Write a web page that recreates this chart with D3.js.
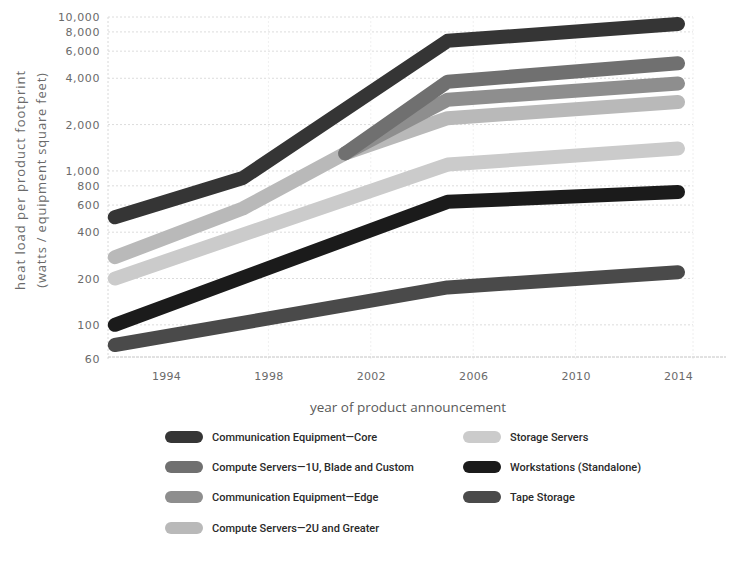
<!DOCTYPE html>
<html>
<head>
<meta charset="utf-8">
<script src="https://cdn.jsdelivr.net/npm/d3@7"></script>
<style>
  html, body { margin: 0; padding: 0; background: #fff; }
  svg { display: block; }
</style>
</head>
<body>
<svg id="chart" width="734" height="567"></svg>
<script>
// Series (legend order)
const seriesNames = [
  "Communication Equipment\u2014Core",
  "Compute Servers\u20141U, Blade and Custom",
  "Communication Equipment\u2014Edge",
  "Compute Servers\u20142U and Greater",
  "Storage Servers",
  "Workstations (Standalone)",
  "Tape Storage"
];
const seriesColors = ["#353535", "#707070", "#8e8e8e", "#b9b9b9", "#cbcbcb", "#1b1b1b", "#4a4a4a"];

// Breakpoint years and heat load values (watts / equipment sq ft) per series
const coreYears = [1992, 1997, 2005, 2014];
const coreValues = [500, 900, 7000, 9000];
const blade1UYears = [2001, 2005, 2014];
const blade1UValues = [1300, 3800, 5000];
const edgeYears = [2001, 2005, 2014];
const edgeValues = [1300, 2900, 3700];
const servers2UYears = [1992, 1997, 2001, 2005, 2014];
const servers2UValues = [275, 570, 1300, 2200, 2800];
const storageYears = [1992, 2005, 2014];
const storageValues = [200, 1100, 1400];
const workstationYears = [1992, 2005, 2014];
const workstationValues = [100, 630, 730];
const tapeYears = [1992, 2005, 2014];
const tapeValues = [74, 175, 220];

// Axis ticks
const xTickYears = [1994, 1998, 2002, 2006, 2010, 2014];
const yTickValues = [60, 100, 200, 400, 600, 800, 1000, 2000, 4000, 6000, 8000, 10000];

const seriesYears = [coreYears, blade1UYears, edgeYears, servers2UYears, storageYears, workstationYears, tapeYears];
const seriesValues = [coreValues, blade1UValues, edgeValues, servers2UValues, storageValues, workstationValues, tapeValues];
const series = seriesNames.map((name, i) => ({
  name,
  color: seriesColors[i],
  points: seriesYears[i].map((yr, j) => ({ year: yr, value: seriesValues[i][j] }))
}));

const svg = d3.select("#chart");
const plotLeft = 108, plotRight = 693, plotTop = 17, plotBottom = 359;

const x = d3.scaleLinear().domain([1994, 2014]).range([166, 678]);
const y = d3.scaleLog().domain([60, 10000]).range([plotBottom, plotTop]);

// Grid
const grid = svg.append("g");
grid.selectAll("line.h")
  .data(yTickValues.filter(v => v > 60))
  .join("line")
  .attr("x1", plotLeft).attr("x2", plotRight)
  .attr("y1", d => y(d)).attr("y2", d => y(d))
  .attr("stroke", "#dcdcdc").attr("stroke-width", 1)
  .attr("stroke-dasharray", "2,2");
grid.selectAll("line.v")
  .data(xTickYears.slice(1, -1))
  .join("line")
  .attr("x1", d => x(d)).attr("x2", d => x(d))
  .attr("y1", plotTop).attr("y2", plotBottom)
  .attr("stroke", "#f0f0f0").attr("stroke-width", 1)
  .attr("stroke-dasharray", "2,2");
grid.append("line")
  .attr("x1", plotRight).attr("x2", plotRight)
  .attr("y1", plotTop).attr("y2", plotBottom)
  .attr("stroke", "#eeeeee").attr("stroke-dasharray", "2,2");
grid.append("line")
  .attr("x1", plotLeft).attr("x2", plotLeft)
  .attr("y1", plotTop).attr("y2", plotBottom)
  .attr("stroke", "#d8d8d8").attr("stroke-dasharray", "2,2");
grid.append("line")
  .attr("x1", plotLeft).attr("x2", 726)
  .attr("y1", plotBottom - 2).attr("y2", plotBottom - 2)
  .attr("stroke", "#c4c4c4").attr("stroke-dasharray", "3,1");

// Y axis
const yAxis = d3.axisLeft(y)
  .tickValues(yTickValues)
  .tickFormat(d3.format(","))
  .tickSize(0)
  .tickPadding(0);
const gy = svg.append("g").attr("transform", "translate(100,0)").call(yAxis);
gy.select(".domain").remove();
gy.selectAll("text")
  .attr("fill", "#6a6a6a")
  .attr("font-family", "DejaVu Sans, sans-serif")
  .attr("font-size", 11)
  .attr("letter-spacing", 0.6);

// X axis
const xAxis = d3.axisBottom(x)
  .tickValues(xTickYears)
  .tickFormat(d3.format("d"))
  .tickSize(0)
  .tickPadding(0);
const gx = svg.append("g").attr("transform", "translate(0,372)").call(xAxis);
gx.select(".domain").remove();
gx.selectAll("text")
  .attr("fill", "#6a6a6a")
  .attr("font-family", "DejaVu Sans, sans-serif")
  .attr("font-size", 11)
  .attr("letter-spacing", 0.3);

// Axis titles
svg.append("text")
  .attr("x", 408).attr("y", 412)
  .attr("text-anchor", "middle")
  .attr("fill", "#5a5a5a")
  .attr("font-family", "Open Sans, sans-serif")
  .attr("font-size", 13.5)
  .text("year of product announcement");

const yTitle = svg.append("g").attr("transform", "translate(0,180) rotate(-90)");
yTitle.append("text")
  .attr("x", 0).attr("y", 25)
  .attr("text-anchor", "middle")
  .attr("fill", "#6a6a6a")
  .attr("font-family", "Open Sans, sans-serif")
  .attr("font-size", 13)
  .attr("letter-spacing", 1)
  .text("heat load per product footprint");
yTitle.append("text")
  .attr("x", 0).attr("y", 46)
  .attr("text-anchor", "middle")
  .attr("fill", "#6a6a6a")
  .attr("font-family", "Open Sans, sans-serif")
  .attr("font-size", 13)
  .attr("letter-spacing", 0.8)
  .text("(watts / equipment square feet)");

// Lines: lighter series underneath, darker on top
const line = d3.line().x(d => x(d.year)).y(d => y(d.value));
const drawOrder = [4, 3, 2, 1, 6, 5, 0];
svg.append("g")
  .selectAll("path")
  .data(drawOrder.map(i => series[i]))
  .join("path")
  .attr("d", d => line(d.points))
  .attr("fill", "none")
  .attr("stroke", d => d.color)
  .attr("stroke-width", 14)
  .attr("stroke-linecap", "round")
  .attr("stroke-linejoin", "round");

// Legend: two columns
const legendCols = [[0, 1, 2, 3], [4, 5, 6]];
const colX = [165, 463];
const rowY = [437, 467, 497, 528];
const legend = svg.append("g");
legendCols.forEach((col, c) => {
  col.forEach((si, r) => {
    const g = legend.append("g").attr("transform", `translate(${colX[c]},${rowY[r]})`);
    g.append("rect")
      .attr("x", 0).attr("y", -6)
      .attr("width", 38).attr("height", 12)
      .attr("rx", 6).attr("ry", 6)
      .attr("fill", series[si].color);
    g.append("text")
      .attr("x", 47).attr("y", 0)
      .attr("dominant-baseline", "central")
      .attr("fill", "#2a2a2a")
      .attr("font-family", "Roboto, sans-serif")
      .attr("font-weight", 500)
      .attr("font-size", 11)
      .text(series[si].name);
  });
});
</script>
</body>
</html>
